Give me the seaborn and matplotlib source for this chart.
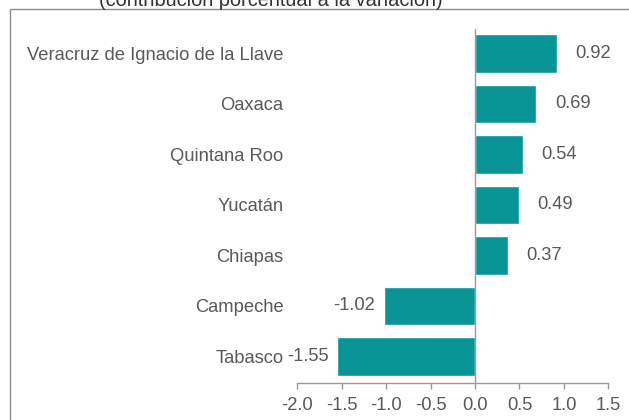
import matplotlib
matplotlib.use("Agg")
import matplotlib.pyplot as plt
import seaborn as sns
import pandas as pd
from matplotlib.patches import Rectangle

states = ["Veracruz de Ignacio de la Llave", "Oaxaca", "Quintana Roo", "Yucatán",
          "Chiapas", "Campeche", "Tabasco"]
values = [0.92, 0.69, 0.54, 0.49, 0.37, -1.02, -1.55]
xticks = [-2.0, -1.5, -1.0, -0.5, 0.0, 0.5, 1.0, 1.5]
title = "(contribución porcentual a la variación)"

sns.set_theme(style="white")
plt.rcParams["font.family"] = ["Liberation Sans", "DejaVu Sans"]

text_color = "#595959"
bar_color = "#099595"
line_color = "#999999"
fs = 13.2

df = pd.DataFrame({"estado": states, "valor": values})

fig = plt.figure(figsize=(6.29, 4.20), dpi=100)
ax = fig.add_axes([297.3 / 629, 1 - 383 / 420, (608.3 - 297.3) / 629, (383 - 29) / 420])

sns.barplot(data=df, y="estado", x="valor", orient="h", color=bar_color,
            saturation=1, width=0.77, ax=ax)

ax.set_xlim(-2.0, 1.5)
ax.set_ylim(6.525, -0.485)
ax.set_xticks(xticks)
ax.set_xticklabels([f"{t:.1f}" for t in xticks], fontsize=fs, color=text_color)
ax.tick_params(axis="x", bottom=True, direction="out", length=4, width=1,
               color=line_color, pad=6)
ax.tick_params(axis="y", left=False, length=0, pad=10)
for lab in ax.get_yticklabels():
    lab.set_fontsize(fs)
    lab.set_color(text_color)
ax.set_xlabel("")
ax.set_ylabel("")

for s in ["top", "right", "left"]:
    ax.spines[s].set_visible(False)
ax.spines["bottom"].set_color(line_color)
ax.spines["bottom"].set_linewidth(1)
ax.axvline(0, color=line_color, lw=1, zorder=3)

for i, v in enumerate(values):
    if v >= 0:
        ax.annotate(f"{v:.2f}", (v, i), xytext=(13.5, 0), textcoords="offset points",
                    ha="left", va="center", fontsize=fs, color=text_color)
    else:
        ax.annotate(f"{v:.2f}", (v, i), xytext=(-6.5, 0), textcoords="offset points",
                    ha="right", va="center", fontsize=fs, color=text_color)

fig.patches.append(Rectangle((10 / 629, -0.1), 1.2, 1 - 9 / 420 + 0.1,
                             transform=fig.transFigure, fill=False,
                             edgecolor="#8c8c8c", lw=1))
fig.text(271 / 629, 1 - 0.5 / 420, title, ha="center", va="center",
         fontsize=14.4, color="#333333")

fig.savefig("out.png", dpi=100)
